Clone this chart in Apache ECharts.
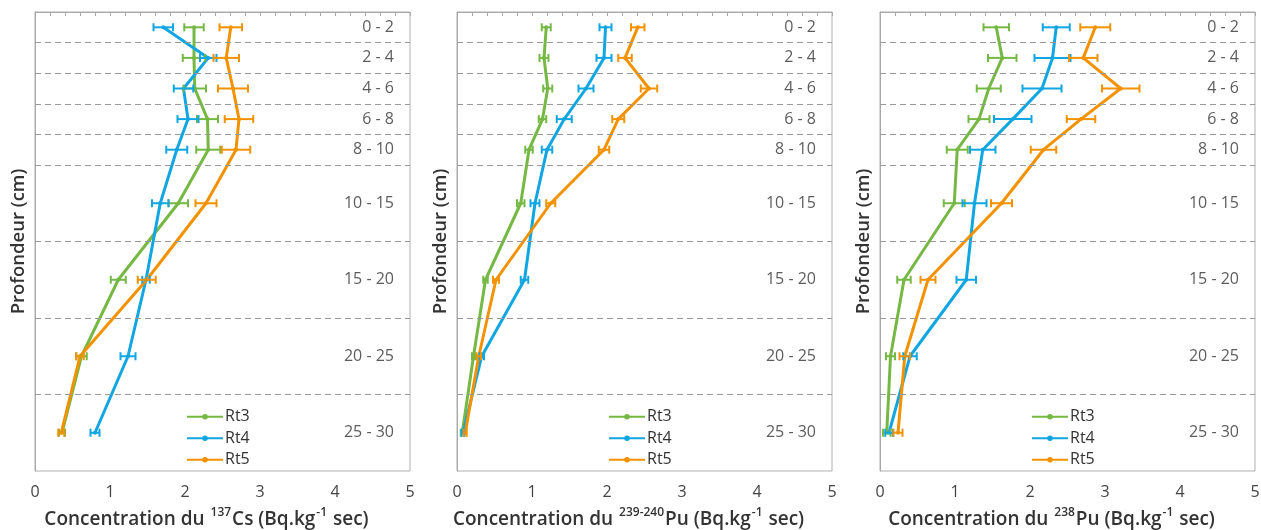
<!DOCTYPE html>
<html><head><meta charset="utf-8">
<script src="https://cdn.jsdelivr.net/npm/echarts@6/dist/echarts.min.js"></script>
<style>html,body{margin:0;padding:0;background:#fff}#c{width:1261px;height:530px}</style>
</head><body><div id="c"></div>
<script>
// ---- data ----
const depthLabels = ['0 - 2','2 - 4','4 - 6','6 - 8','8 - 10','10 - 15','15 - 20','20 - 25','25 - 30'];
const depthMid = [1, 3, 5, 7, 9, 12.5, 17.5, 22.5, 27.5];
const layerBounds = [2, 4, 6, 8, 10, 15, 20, 25];
const seriesNames = ['Rt3', 'Rt4', 'Rt5'];
const xTickLabels = ['0', '1', '2', '3', '4', '5'];

// 137Cs
const cs_Rt3 = [2.12, 2.12, 2.13, 2.30, 2.31, 1.91, 1.11, 0.62, 0.36];
const cs_Rt3_err = [0.13, 0.15, 0.15, 0.14, 0.16, 0.13, 0.10, 0.07, 0.04];
const cs_Rt4 = [1.71, 2.31, 1.98, 2.04, 1.89, 1.67, 1.48, 1.24, 0.80];
const cs_Rt4_err = [0.13, 0.11, 0.13, 0.14, 0.14, 0.11, 0.05, 0.10, 0.06];
const cs_Rt5 = [2.61, 2.55, 2.64, 2.72, 2.68, 2.28, 1.49, 0.60, 0.35];
const cs_Rt5_err = [0.15, 0.17, 0.20, 0.19, 0.19, 0.14, 0.12, 0.05, 0.04];

// 239-240Pu
const pu239_Rt3 = [1.19, 1.16, 1.21, 1.14, 0.96, 0.85, 0.38, 0.22, 0.07];
const pu239_Rt3_err = [0.06, 0.06, 0.06, 0.05, 0.05, 0.05, 0.03, 0.02, 0.02];
const pu239_Rt4 = [1.98, 1.96, 1.72, 1.43, 1.20, 1.04, 0.90, 0.33, 0.08];
const pu239_Rt4_err = [0.08, 0.10, 0.10, 0.10, 0.07, 0.06, 0.05, 0.03, 0.02];
const pu239_Rt5 = [2.41, 2.24, 2.56, 2.15, 1.96, 1.25, 0.52, 0.29, 0.11];
const pu239_Rt5_err = [0.09, 0.09, 0.11, 0.08, 0.07, 0.06, 0.04, 0.03, 0.02];

// 238Pu
const pu238_Rt3 = [1.55, 1.63, 1.45, 1.32, 1.03, 0.99, 0.32, 0.14, 0.09];
const pu238_Rt3_err = [0.17, 0.19, 0.16, 0.14, 0.14, 0.14, 0.09, 0.06, 0.05];
const pu238_Rt4 = [2.35, 2.30, 2.16, 1.77, 1.37, 1.26, 1.15, 0.40, 0.12];
const pu238_Rt4_err = [0.18, 0.24, 0.26, 0.25, 0.17, 0.16, 0.13, 0.09, 0.05];
const pu238_Rt5 = [2.87, 2.71, 3.21, 2.68, 2.18, 1.62, 0.64, 0.33, 0.24];
const pu238_Rt5_err = [0.20, 0.19, 0.25, 0.19, 0.17, 0.14, 0.10, 0.07, 0.06];

// ---- build ----
const colors = ['#76b844', '#11a6e2', '#f39200'];
const FONT = '"Open Sans"';
const panels = [
  { left: 35, vals: [cs_Rt3, cs_Rt4, cs_Rt5], errs: [cs_Rt3_err, cs_Rt4_err, cs_Rt5_err], iso: '137', el: 'Cs' },
  { left: 457, vals: [pu239_Rt3, pu239_Rt4, pu239_Rt5], errs: [pu239_Rt3_err, pu239_Rt4_err, pu239_Rt5_err], iso: '239-240', el: 'Pu' },
  { left: 880, vals: [pu238_Rt3, pu238_Rt4, pu238_Rt5], errs: [pu238_Rt3_err, pu238_Rt4_err, pu238_Rt5_err], iso: '238', el: 'Pu' }
];
const W = 375, TOP = 12, H = 459;

const grid = [], xAxis = [], yAxis = [], series = [], legend = [];
panels.forEach((p, k) => {
  grid.push({ left: p.left, top: TOP, width: W, height: H, outerBoundsMode: 'none', containLabel: false,
    show: true, borderColor: '#b0b0b0', borderWidth: 1, backgroundColor: 'transparent' });
  xAxis.push({
    gridIndex: k, type: 'value', min: 0, max: 5, interval: 1,
    axisLine: { show: true, lineStyle: { color: '#a8a8a8', width: 1 } },
    axisTick: { show: true, length: 4, lineStyle: { color: '#a8a8a8' } },
    minorTick: { show: true, splitNumber: 5, length: 4, lineStyle: { color: '#a8a8a8' } },
    splitLine: { show: false },
    axisLabel: { fontSize: 16, color: '#444', fontFamily: FONT, margin: 13, formatter: v => xTickLabels[Math.round(v)] },
    name: '{a|Concentration du }{s|' + p.iso + '}{a|' + p.el + ' (Bq.kg}{s|-1}{a| sec)}',
    nameLocation: 'middle', nameGap: 36,
    nameTextStyle: {
      padding: [0, 32, 0, 0],
      rich: {
        a: { fontSize: 19, fontWeight: 600, color: '#333', fontFamily: FONT, lineHeight: 22, verticalAlign: 'bottom' },
        s: { fontSize: 12, fontWeight: 600, color: '#333', fontFamily: FONT, lineHeight: 22, verticalAlign: 'top', padding: [0, 1, 9, 1] }
      }
    }
  });
  yAxis.push({
    gridIndex: k, type: 'value', min: 0, max: 30, inverse: true,
    axisLine: { show: true, lineStyle: { color: '#a8a8a8', width: 1 } },
    axisTick: { show: false }, axisLabel: { show: false }, splitLine: { show: false },
    name: 'Profondeur (cm)', nameLocation: 'middle', nameGap: 7,
    nameTextStyle: { fontSize: 18.5, fontWeight: 600, color: '#333', fontFamily: FONT }
  });
  legend.push({
    data: seriesNames, orient: 'vertical', left: p.left + 146, top: 401,
    itemWidth: 36, itemHeight: 7, itemGap: 0,
    textStyle: { fontSize: 16, color: '#333', fontFamily: FONT, lineHeight: 21.5, padding: [0, 0, 0, -3] }
  });
  // dashed layer lines + depth labels
  series.push({
    type: 'scatter', xAxisIndex: k, yAxisIndex: k, silent: true,
    symbolSize: 0, data: depthMid.map(d => [5, d]),
    label: { show: true, position: 'left', distance: 16, fontSize: 16, color: '#333', fontFamily: FONT,
      formatter: pr => depthLabels[pr.dataIndex] },
    markLine: {
      silent: true, symbol: 'none', label: { show: false },
      lineStyle: { type: [6, 4], color: '#999', width: 1 },
      data: layerBounds.map(b => ({ yAxis: b }))
    },
    z: 1
  });
  // lines
  seriesNames.forEach((nm, j) => {
    series.push({
      type: 'line', name: nm, xAxisIndex: k, yAxisIndex: k,
      data: p.vals[j].map((v, i) => [v, depthMid[i]]),
      color: colors[j], lineStyle: { width: 3, color: colors[j] },
      symbol: 'circle', symbolSize: 4, showSymbol: true,
      itemStyle: { color: colors[j] },
      z: 3
    });
  });
  // error bars
  seriesNames.forEach((nm, j) => {
    const c = colors[j];
    series.push({
      type: 'custom', name: nm + ' err', xAxisIndex: k, yAxisIndex: k, silent: true,
      data: p.vals[j].map((v, i) => [v - p.errs[j][i], v + p.errs[j][i], depthMid[i]]),
      encode: { x: [0, 1], y: 2 },
      renderItem: (params, api) => {
        const lo = api.coord([api.value(0), api.value(2)]);
        const hi = api.coord([api.value(1), api.value(2)]);
        const h = 4, st = { stroke: c, lineWidth: 2 };
        return { type: 'group', children: [
          { type: 'line', shape: { x1: lo[0], y1: lo[1], x2: hi[0], y2: hi[1] }, style: st },
          { type: 'line', shape: { x1: lo[0], y1: lo[1] - h, x2: lo[0], y2: lo[1] + h }, style: st },
          { type: 'line', shape: { x1: hi[0], y1: hi[1] - h, x2: hi[0], y2: hi[1] + h }, style: st }
        ]};
      },
      z: 4
    });
  });
});

const chart = echarts.init(document.getElementById('c'), null, { renderer: 'canvas' });
chart.setOption({ animation: false, backgroundColor: '#fff', grid, xAxis, yAxis, legend, series });
</script>
</body></html>
